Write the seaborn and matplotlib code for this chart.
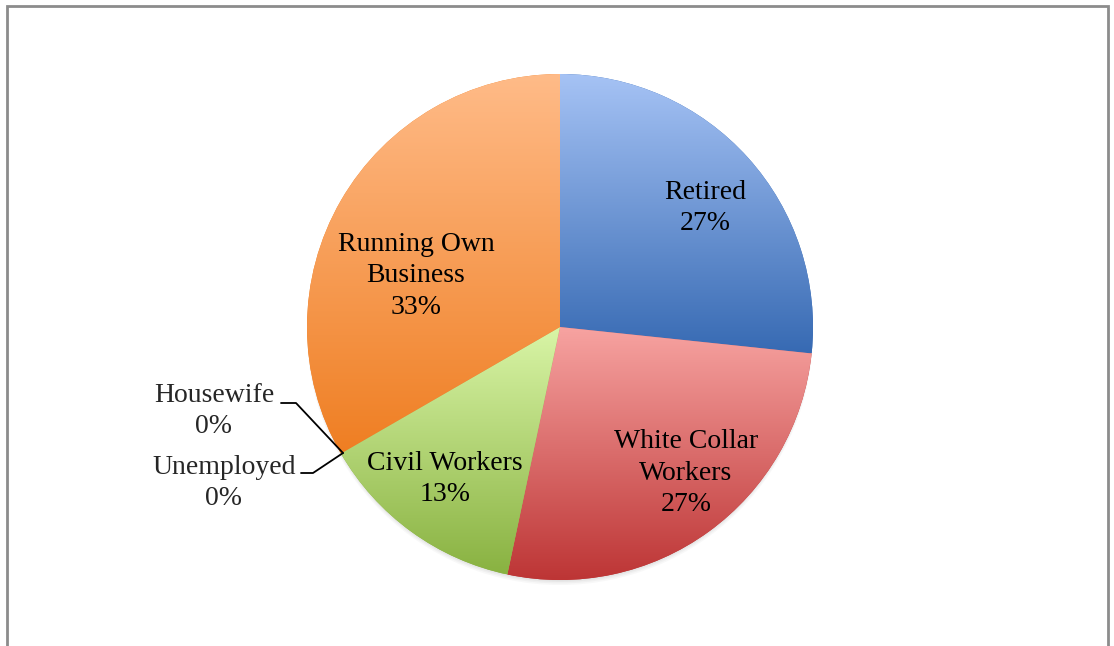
import numpy as np
import matplotlib
matplotlib.use("Agg")
import matplotlib.pyplot as plt
from matplotlib.colors import LinearSegmentedColormap
from matplotlib.patches import Circle
import seaborn as sns

# Occupation of respondents (number of people)
categories = ["Retired", "White Collar Workers", "Civil Workers",
              "Unemployed", "Housewife", "Running Own Business"]
counts = [4, 4, 2, 0, 0, 5]
label_texts = ["Retired", "White Collar\nWorkers", "Civil Workers",
               "Unemployed", "Housewife", "Running Own\nBusiness"]

# Vertical gradient for each slice: light top -> darker bottom
top_colors = ["#A6C3F5", "#F7A3A1", "#D9F5A7", "#D9F5A7", "#FFBB88", "#FFBB88"]
bottom_colors = ["#376AB3", "#BD3535", "#89B241", "#89B241", "#EF7E22", "#EF7E22"]

sns.set_theme(style="white")
plt.rcParams["font.family"] = ["Liberation Serif", "DejaVu Serif"]

W, H = 1114, 646
fig = plt.figure(figsize=(W / 100, H / 100), dpi=100)
ax = fig.add_axes([0, 0, 1, 1])

cx, cy, r = 560, H - 327, 253

# soft shadow beneath the pie
for k, a in enumerate([0.05, 0.06, 0.07, 0.08]):
    ax.add_patch(Circle((cx, cy - 5 + k), r - k * 0.5, color="#7a7a7a",
                        alpha=a, lw=0, zorder=1))

wedges, _ = ax.pie(counts, startangle=90, counterclock=False,
                   center=(cx, cy), radius=r,
                   colors=bottom_colors,
                   wedgeprops=dict(linewidth=0), frame=True)

for w, c, top, bot in zip(wedges, counts, top_colors, bottom_colors):
    w.set_zorder(2)
    if c == 0:
        continue
    ext = w.get_path().get_extents()
    cmap = LinearSegmentedColormap.from_list("g", [bot, top])
    grad = np.linspace(0, 1, 256).reshape(-1, 1)
    im = ax.imshow(grad, cmap=cmap, origin="lower", aspect="auto",
                   extent=(ext.x0, ext.x1, ext.y0, ext.y1), zorder=3,
                   interpolation="bilinear")
    im.set_clip_path(w)

ax.set_xlim(0, W)
ax.set_ylim(0, H)
ax.set_aspect("equal")
ax.axis("off")

total = sum(counts)
pct = [f"{round(100 * c / total)}%" for c in counts]

fs = 20
ls = 1.32
inside_pos = {0: (705, 208), 1: (686, 473), 2: (445, 479), 5: (416, 276)}
for i, (x, y) in inside_pos.items():
    ax.text(x, H - y, f"{label_texts[i]}\n{pct[i]}", ha="center", va="center",
            fontsize=fs, linespacing=ls, color="black", zorder=5)

# small slices labelled outside with leader lines
edge_pt = (343, H - 453)
ax.text(214, H - 411, f"{label_texts[4]}\n{pct[4]}", ha="center", va="center",
        fontsize=fs, linespacing=ls, zorder=5)
ax.plot([281, 296, edge_pt[0]], [H - 403, H - 403, edge_pt[1]],
        color="black", lw=1.3, zorder=5)
ax.text(224, H - 483, f"{label_texts[3]}\n{pct[3]}", ha="center", va="center",
        fontsize=fs, linespacing=ls, zorder=5)
ax.plot([301, 313, edge_pt[0]], [H - 473, H - 473, edge_pt[1]],
        color="black", lw=1.3, zorder=5)

# chart frame
ax.plot([7, 7, 1108, 1108], [-5, H - 6, H - 6, -5], color="#8c8c8c",
        lw=2, zorder=6, solid_joinstyle="miter")

fig.savefig("out.png", dpi=100)
